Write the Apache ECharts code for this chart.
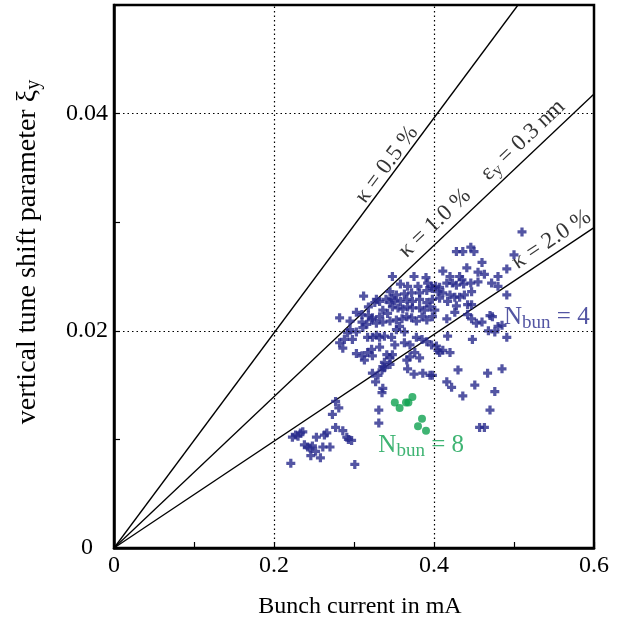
<!DOCTYPE html>
<html><head><meta charset="utf-8">
<script src="https://cdn.jsdelivr.net/npm/echarts@6/dist/echarts.min.js"></script>
<style>html,body{margin:0;padding:0;background:#fff}#c{width:618px;height:623px}</style>
</head><body><div id="c"></div>
<script>
// ---- data ----
const xLabelTicks = [0, 0.2, 0.4, 0.6];
const yLabelTicks = [0, 0.02, 0.04];
const xGridLines = [0.2, 0.4];
const yGridLines = [0.02, 0.04];

// N_bun = 4 : [bunch current (mA), vertical tune shift]
const bunch4 = [
[0.510,0.0291],[0.428,0.0273],[0.436,0.0273],[0.446,0.0277],[0.450,0.0273],[0.500,0.0270],[0.460,0.0263],[0.411,0.0255],[0.420,0.0250],[0.432,0.0250],
[0.441,0.0258],[0.455,0.0254],[0.463,0.0252],[0.480,0.0250],[0.491,0.0257],[0.472,0.0244],[0.480,0.0241],[0.348,0.0250],[0.375,0.0250],[0.390,0.0249],
[0.358,0.0243],[0.367,0.0241],[0.380,0.0241],[0.392,0.0244],[0.397,0.0241],[0.402,0.0241],[0.407,0.0240],[0.416,0.0244],[0.423,0.0244],[0.428,0.0242],
[0.435,0.0247],[0.437,0.0243],[0.446,0.0244],[0.455,0.0245],[0.345,0.0236],[0.353,0.0233],[0.363,0.0234],[0.372,0.0235],[0.382,0.0235],[0.391,0.0237],
[0.398,0.0239],[0.405,0.0236],[0.411,0.0235],[0.420,0.0233],[0.426,0.0231],[0.432,0.0231],[0.438,0.0233],[0.447,0.0236],[0.312,0.0232],[0.328,0.0229],
[0.340,0.0229],[0.347,0.0230],[0.326,0.0226],[0.332,0.0227],[0.345,0.0226],[0.351,0.0228],[0.358,0.0227],[0.366,0.0229],[0.373,0.0227],[0.382,0.0229],
[0.391,0.0226],[0.398,0.0229],[0.407,0.0230],[0.417,0.0227],[0.428,0.0223],[0.442,0.0224],[0.447,0.0224],[0.282,0.0212],[0.295,0.0209],[0.303,0.0217],
[0.310,0.0215],[0.318,0.0214],[0.323,0.0212],[0.332,0.0213],[0.336,0.0219],[0.342,0.0216],[0.348,0.0222],[0.355,0.0221],[0.361,0.0220],[0.367,0.0222],
[0.373,0.0221],[0.382,0.0221],[0.388,0.0219],[0.395,0.0222],[0.401,0.0219],[0.310,0.0208],[0.316,0.0206],[0.322,0.0210],[0.328,0.0207],[0.336,0.0208],
[0.345,0.0209],[0.353,0.0210],[0.360,0.0211],[0.366,0.0213],[0.372,0.0212],[0.378,0.0209],[0.385,0.0213],[0.391,0.0210],[0.398,0.0213],[0.416,0.0211],
[0.426,0.0217],[0.442,0.0215],[0.447,0.0211],[0.460,0.0208],[0.470,0.0214],[0.473,0.0213],[0.480,0.0204],[0.485,0.0205],[0.491,0.0194],[0.468,0.0200],
[0.476,0.0199],[0.448,0.0192],[0.295,0.0201],[0.303,0.0199],[0.311,0.0203],[0.317,0.0194],[0.323,0.0194],[0.332,0.0194],[0.338,0.0195],[0.347,0.0194],
[0.353,0.0201],[0.357,0.0204],[0.363,0.0199],[0.288,0.0192],[0.298,0.0192],[0.282,0.0189],[0.286,0.0184],[0.322,0.0183],[0.332,0.0185],[0.351,0.0187],
[0.363,0.0189],[0.370,0.0187],[0.378,0.0194],[0.385,0.0192],[0.391,0.0190],[0.397,0.0187],[0.403,0.0186],[0.405,0.0182],[0.407,0.0180],[0.411,0.0182],
[0.417,0.0195],[0.420,0.0180],[0.303,0.0179],[0.310,0.0177],[0.313,0.0173],[0.317,0.0180],[0.323,0.0177],[0.341,0.0178],[0.345,0.0175],[0.348,0.0178],
[0.338,0.0171],[0.336,0.0167],[0.366,0.0173],[0.370,0.0176],[0.376,0.0180],[0.382,0.0175],[0.323,0.0161],[0.330,0.0159],[0.335,0.0164],[0.338,0.0166],
[0.345,0.0169],[0.367,0.0165],[0.375,0.0160],[0.386,0.0161],[0.395,0.0159],[0.398,0.0159],[0.327,0.0153],[0.336,0.0147],[0.416,0.0153],[0.422,0.0148],
[0.430,0.0164],[0.451,0.0150],[0.467,0.0161],[0.476,0.0144],[0.485,0.0165],[0.436,0.0140],[0.277,0.0135],[0.335,0.0143],[0.281,0.0129],[0.273,0.0123],
[0.277,0.0111],[0.286,0.0108],[0.291,0.0102],[0.293,0.0100],[0.297,0.0099],[0.301,0.0077],[0.223,0.0102],[0.227,0.0104],[0.230,0.0103],[0.233,0.0106],
[0.236,0.0107],[0.253,0.0102],[0.263,0.0104],[0.266,0.0106],[0.238,0.0095],[0.242,0.0093],[0.245,0.0092],[0.248,0.0094],[0.252,0.0089],[0.261,0.0093],
[0.270,0.0093],[0.246,0.0085],[0.258,0.0083],[0.221,0.0078],[0.331,0.0127],[0.331,0.0115],[0.470,0.0127],[0.457,0.0111],[0.463,0.0111],[0.491,0.0233],
[0.453,0.0207],[0.318,0.0222],[0.292,0.0198],[0.328,0.0196]
];

// N_bun = 8
const bunch8 = [
[0.351,0.0134],[0.357,0.0129],[0.365,0.0134],[0.368,0.0134],[0.373,0.0139],[0.385,0.0119],[0.380,0.0112],[0.390,0.0108]
];

// constant-coupling lines (start, end)
const kappa05 = [[0, 0], [0.505, 0.05]];
const kappa10 = [[0, 0], [0.6, 0.0418]];
const kappa20 = [[0, 0], [0.6, 0.0295]];

// ---- presentation ----
const FONT = '"Liberation Serif", "Times New Roman", serif';
const BLUE = '#282b8c';
const GREEN = '#0fa150';
const CROSS = 'path://M3.2,0H6.8V3.2H10V6.8H6.8V10H3.2V6.8H0V3.2H3.2Z';

const annotations = [
  {coord: [0.341, 0.0353], rot: 53.4, text: 'κ = 0.5 %', color: '#000', size: 23},
  {coord: [0.460, 0.0340], rot: 43.4, text: 'κ = 1.0 %    ε{s|y} = 0.3 nm', color: '#000', size: 23},
  {coord: [0.547, 0.0284], rot: 33.6, text: 'κ = 2.0 %', color: '#000', size: 23},
  {coord: [0.541, 0.0212], rot: 0, text: 'N{s|bun} = 4', color: BLUE, size: 25},
  {coord: [0.384, 0.0094], rot: 0, text: 'N{s|bun} = 8', color: GREEN, size: 25}
];

function near(v, list) { return list.some(t => Math.abs(t - v) < 1e-6); }

const chart = echarts.init(document.getElementById('c'), null, {renderer: 'canvas'});
const lineSeries = (d) => ({
  type: 'line', data: d, symbol: 'none', silent: true, z: 2,
  lineStyle: {color: '#000', width: 1.3}
});

chart.setOption({
  animation: false,
  backgroundColor: '#fff',
  grid: {left: 114, right: 24, top: 5, bottom: 75, show: true, borderColor: '#000', borderWidth: 2.5, backgroundColor: 'transparent'},
  xAxis: {
    type: 'value', min: 0, max: 0.6, interval: 0.1,
    axisLine: {lineStyle: {color: '#000', width: 2.5}},
    axisTick: {inside: true, length: 6, lineStyle: {color: '#000', width: 1.2}},
    splitLine: {show: false},
    axisLabel: {
      color: '#000', fontFamily: FONT, fontSize: 24, margin: 6,
      formatter: v => near(v, xLabelTicks) ? String(+v.toFixed(1)) : ''
    }
  },
  yAxis: {
    type: 'value', min: 0, max: 0.05, interval: 0.01,
    axisLine: {lineStyle: {color: '#000', width: 2.5}},
    axisTick: {inside: true, length: 6, lineStyle: {color: '#000', width: 1.2}},
    splitLine: {show: false},
    axisLabel: {
      color: '#000', fontFamily: FONT, fontSize: 24, margin: 27, align: 'center',
      formatter: v => near(v, yLabelTicks) ? String(+v.toFixed(2)) : ''
    }
  },
  graphic: [
    {type: 'text', x: 360, y: 607, silent: true,
     style: {text: 'Bunch current in mA', font: '24px ' + FONT, fill: '#000', align: 'center', verticalAlign: 'middle'}},
    {type: 'text', x: 28, y: 252, rotation: Math.PI / 2, silent: true,
     style: {text: 'vertical tune shift parameter ξ{s|y}', font: '28px ' + FONT, fill: '#000', align: 'center', verticalAlign: 'middle',
       rich: {s: {fontSize: 20, fontFamily: FONT, padding: [12, 0, 0, 0]}}}}
  ],
  series: [
    Object.assign(lineSeries(kappa05), {
      markLine: {
        silent: true, symbol: 'none', label: {show: false},
        lineStyle: {color: '#000', type: [1.5, 3], width: 1.2},
        data: xGridLines.map(v => ({xAxis: v})).concat(yGridLines.map(v => ({yAxis: v})))
      }
    }),
    lineSeries(kappa10),
    lineSeries(kappa20),
    {
      type: 'scatter', data: bunch4, symbol: CROSS, symbolSize: 9, z: 3,
      itemStyle: {color: BLUE}
    },
    {
      type: 'scatter', data: bunch8, symbol: 'circle', symbolSize: 8, z: 4,
      itemStyle: {color: GREEN}
    },
    {
      type: 'scatter', symbolSize: 0, silent: true, z: 5,
      data: annotations.map(a => ({
        value: a.coord,
        label: {
          show: true, position: 'inside', rotate: a.rot, formatter: a.text,
          color: a.color, fontFamily: FONT, fontSize: a.size,
          rich: {s: {fontSize: Math.round(a.size * 0.75), fontFamily: FONT, color: a.color, padding: [10, 0, 0, 0]}}
        }
      }))
    }
  ]
});
</script>
</body></html>
